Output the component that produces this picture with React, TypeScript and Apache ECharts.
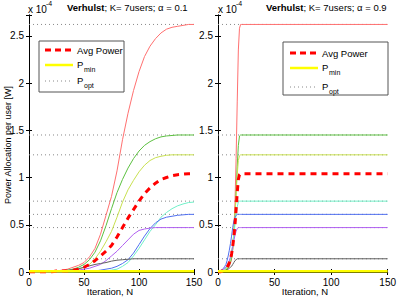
import React, { useEffect, useRef } from 'react';
import * as echarts from 'echarts';

const FONT = '"Liberation Sans", Arial, Helvetica, sans-serif';

// Left panel (alpha = 0.1): iterations sampled every 5
const ITER_L = [0, 5, 10, 15, 20, 25, 30, 35, 40, 45, 50, 55, 60, 65, 70, 75, 80, 85, 90, 95, 100, 105, 110, 115, 120, 125, 130, 135, 140, 145, 150];
const L_RED = [0, 0, 0, 0.01, 0.01, 0.01, 0.02, 0.03, 0.05, 0.07, 0.1, 0.16, 0.25, 0.4, 0.6, 0.8, 1.07, 1.4, 1.68, 1.92, 2.12, 2.28, 2.39, 2.47, 2.53, 2.57, 2.59, 2.6, 2.61, 2.62, 2.62];
const L_GREEN = [0, 0, 0, 0, 0.01, 0.01, 0.01, 0.02, 0.03, 0.05, 0.08, 0.13, 0.21, 0.33, 0.49, 0.67, 0.84, 0.98, 1.1, 1.2, 1.28, 1.34, 1.38, 1.41, 1.43, 1.44, 1.445, 1.45, 1.45, 1.45, 1.45];
const L_YG = [0, 0, 0, 0, 0, 0.01, 0.01, 0.01, 0.02, 0.03, 0.05, 0.08, 0.14, 0.22, 0.32, 0.43, 0.58, 0.74, 0.87, 0.97, 1.06, 1.13, 1.18, 1.21, 1.225, 1.235, 1.24, 1.24, 1.24, 1.24, 1.24];
const L_AVG = [0, 0, 0, 0, 0, 0.01, 0.01, 0.01, 0.02, 0.03, 0.05, 0.08, 0.12, 0.17, 0.22, 0.28, 0.37, 0.47, 0.57, 0.66, 0.75, 0.83, 0.89, 0.94, 0.98, 1.0, 1.02, 1.03, 1.035, 1.04, 1.04];
const L_CYAN = [0, 0, 0, 0, 0, 0, 0, 0, 0, 0, 0, 0.005, 0.005, 0.01, 0.01, 0.02, 0.03, 0.06, 0.1, 0.17, 0.25, 0.34, 0.43, 0.5, 0.58, 0.63, 0.67, 0.7, 0.72, 0.735, 0.74];
const L_BLUE = [0, 0, 0, 0, 0, 0, 0, 0, 0, 0.005, 0.005, 0.01, 0.01, 0.02, 0.03, 0.04, 0.06, 0.09, 0.13, 0.2, 0.29, 0.38, 0.46, 0.52, 0.56, 0.58, 0.59, 0.6, 0.605, 0.61, 0.61];
const L_PURPLE = [0, 0, 0, 0, 0, 0, 0, 0.01, 0.01, 0.02, 0.03, 0.04, 0.06, 0.08, 0.12, 0.17, 0.22, 0.28, 0.34, 0.4, 0.44, 0.455, 0.465, 0.47, 0.47, 0.47, 0.47, 0.47, 0.47, 0.47, 0.47];
const L_GRAY = [0, 0, 0, 0, 0.005, 0.01, 0.01, 0.015, 0.025, 0.035, 0.05, 0.065, 0.08, 0.09, 0.1, 0.115, 0.125, 0.13, 0.135, 0.14, 0.14, 0.14, 0.14, 0.14, 0.14, 0.14, 0.14, 0.14, 0.14, 0.14, 0.14];

// Right panel (alpha = 0.9)
const ITER_R = [0, 1, 2, 3, 4, 5, 6, 7, 8, 9, 10, 11, 12, 13, 14, 15, 16, 17, 18, 19, 20, 21, 22, 150];
const R_RED = [0, 0, 0, 0, 0, 0.01, 0.01, 0.02, 0.03, 0.04, 0.06, 0.09, 0.14, 0.24, 0.42, 0.72, 1.2, 1.8, 2.35, 2.58, 2.62, 2.62, 2.62, 2.62];
const R_GREEN = [0, 0, 0, 0, 0, 0.01, 0.01, 0.02, 0.03, 0.05, 0.07, 0.1, 0.15, 0.24, 0.38, 0.58, 0.85, 1.12, 1.34, 1.44, 1.45, 1.45, 1.45, 1.45];
const R_YG = [0, 0, 0, 0, 0.01, 0.01, 0.02, 0.03, 0.04, 0.06, 0.09, 0.13, 0.19, 0.28, 0.42, 0.6, 0.82, 1.03, 1.18, 1.23, 1.24, 1.24, 1.24, 1.24];
const R_CYAN = [0, 0, 0, 0.01, 0.01, 0.02, 0.03, 0.04, 0.06, 0.08, 0.11, 0.15, 0.21, 0.29, 0.39, 0.5, 0.61, 0.69, 0.74, 0.75, 0.75, 0.75, 0.75, 0.75];
const R_BLUE = [0, 0.01, 0.01, 0.02, 0.03, 0.04, 0.06, 0.08, 0.12, 0.17, 0.23, 0.3, 0.38, 0.47, 0.54, 0.58, 0.6, 0.61, 0.61, 0.61, 0.61, 0.61, 0.61, 0.61];
const R_PURPLE = [0, 0, 0.01, 0.01, 0.02, 0.03, 0.04, 0.05, 0.07, 0.09, 0.12, 0.16, 0.21, 0.27, 0.33, 0.39, 0.43, 0.46, 0.47, 0.47, 0.47, 0.47, 0.47, 0.47];
const R_GRAY = [0, 0, 0, 0, 0.01, 0.01, 0.01, 0.02, 0.02, 0.03, 0.04, 0.05, 0.06, 0.08, 0.1, 0.12, 0.13, 0.14, 0.14, 0.14, 0.14, 0.14, 0.14, 0.14];
const R_AVG = [0, 0, 0, 0.01, 0.01, 0.02, 0.03, 0.04, 0.05, 0.07, 0.1, 0.14, 0.19, 0.27, 0.37, 0.5, 0.66, 0.84, 0.98, 1.03, 1.04, 1.04, 1.04, 1.04];

const ITER_ENDS = [0, 150];
const PMIN = [0.008, 0.008];
const POPT = [2.62, 1.45, 1.24, 0.75, 0.61, 0.47, 0.14];

const X_TICKS = [0, 50, 100, 150];
const Y_TICKS = [0, 0.5, 1, 1.5, 2, 2.5];
const Y_MAX = 2.72;

const USER_COLORS = ['#ff7070', '#5cc040', '#c8e050', '#70f0c8', '#5070f0', '#b060f0', '#606060'];

export default function App() {
  const ref = useRef<HTMLDivElement>(null);
  useEffect(() => {
    const chart = echarts.init(ref.current!, null, { renderer: 'svg' });
    const grids = [
      { left: 29, right: 205, top: 15, bottom: 28 },
      { left: 218, right: 9, top: 15, bottom: 28 },
    ];
    const black = { color: '#000', width: 1 };
    const xAxes: any[] = [];
    const yAxes: any[] = [];
    [0, 1].forEach((g) => {
      xAxes.push({
        gridIndex: g, type: 'value', min: 0, max: 150, interval: 50, position: 'bottom',
        axisLine: { show: true, lineStyle: black },
        axisTick: { show: true, inside: true, length: 3, lineStyle: black },
        axisLabel: { color: '#000', fontSize: 10, fontFamily: FONT, margin: 5,
          formatter: (v: number) => (X_TICKS.includes(v) ? String(v) : '') },
        splitLine: { show: false },
      });
      yAxes.push({
        gridIndex: g, type: 'value', min: 0, max: Y_MAX, interval: 0.5, position: 'left',
        axisLine: { show: true, lineStyle: black },
        axisTick: { show: true, inside: true, length: 3, lineStyle: black },
        axisLabel: { color: '#000', fontSize: 10, fontFamily: FONT, margin: 5,
          formatter: (v: number) => (Y_TICKS.some((t) => Math.abs(t - v) < 1e-6) ? String(v) : '') },
        splitLine: { show: false },
      });
    });
    [0, 1].forEach((g) => {
      xAxes.push({
        gridIndex: g, type: 'value', min: 0, max: 150, interval: 50, position: 'top',
        axisLine: { show: true, lineStyle: black },
        axisTick: { show: true, inside: true, length: 3, lineStyle: black },
        axisLabel: { show: false }, splitLine: { show: false },
      });
      yAxes.push({
        gridIndex: g, type: 'value', min: 0, max: Y_MAX, interval: 0.5, position: 'right',
        axisLine: { show: true, lineStyle: black },
        axisTick: { show: true, inside: true, length: 3, lineStyle: black },
        axisLabel: { show: false }, splitLine: { show: false },
      });
    });

    const series: any[] = [];
    const line = (g: number, iters: number[], vals: number[], color: string, width: number, type: any, z: number) => {
      series.push({
        type: 'line', xAxisIndex: g, yAxisIndex: g, showSymbol: false, symbol: 'none',
        data: iters.map((t, i) => [t, vals[i]]),
        lineStyle: { color, width, type, cap: 'butt' }, z, silent: true,
      });
    };
    const users = [
      [L_RED, L_GREEN, L_YG, L_CYAN, L_BLUE, L_PURPLE, L_GRAY],
      [R_RED, R_GREEN, R_YG, R_CYAN, R_BLUE, R_PURPLE, R_GRAY],
    ];
    const iters = [ITER_L, ITER_R];
    const avgs = [L_AVG, R_AVG];
    [0, 1].forEach((g) => {
      POPT.forEach((p) => line(g, ITER_ENDS, [p, p], '#888', 1, [1, 3], 2));
      users[g].forEach((vals, k) => line(g, iters[g], vals, USER_COLORS[k], 1, 'solid', 3));
      line(g, iters[g], avgs[g], '#ff0000', 3, [6, 5], 4);
      line(g, ITER_ENDS, PMIN, '#ffff00', 2.5, 'solid', 5);
    });

    const txt = (x: number, y: number, text: string, size = 10, extra: any = {}) => ({
      type: 'text', x, y, silent: true,
      style: { text, fill: '#000', fontSize: size, fontFamily: FONT, align: 'left', verticalAlign: 'middle', ...extra },
    });
    const legend = (x0: number, y0: number, w: number, h: number, rows: number[], lx: number) => {
      const els: any[] = [];
      els.push({ type: 'rect', shape: { x: x0, y: y0, width: w, height: h }, style: { fill: '#fff', stroke: '#555', lineWidth: 1 }, z: 10 });
      els.push({ type: 'line', shape: { x1: lx, y1: rows[0], x2: lx + 28, y2: rows[0] }, style: { stroke: '#ff0000', lineWidth: 3, lineDash: [6, 4] }, z: 11 });
      els.push({ type: 'line', shape: { x1: lx, y1: rows[1], x2: lx + 28, y2: rows[1] }, style: { stroke: '#ffff00', lineWidth: 2.5 }, z: 11 });
      els.push({ type: 'line', shape: { x1: lx, y1: rows[2], x2: lx + 28, y2: rows[2] }, style: { stroke: '#888', lineWidth: 1, lineDash: [1, 3] }, z: 11 });
      const tx = lx + 32;
      els.push({ ...txt(tx, rows[0], 'Avg Power', 9.5), z: 11 });
      els.push({ ...txt(tx, rows[1] - 1, 'P', 9.5), z: 11 });
      els.push({ ...txt(tx + 7, rows[1] + 4, 'min', 7), z: 11 });
      els.push({ ...txt(tx, rows[2] - 1, 'P', 9.5), z: 11 });
      els.push({ ...txt(tx + 7, rows[2] + 4, 'opt', 7), z: 11 });
      return els;
    };

    const graphic: any[] = [
      { type: 'text', x: 67, y: 7, silent: true, style: { text: '{b|Verhulst}; K= 7users; α = 0.1', fill: '#000', fontSize: 9.5, fontFamily: FONT, align: 'left', verticalAlign: 'middle', rich: { b: { fontWeight: 'bold', fontSize: 9.5, fontFamily: FONT } } } },
      { type: 'text', x: 266, y: 7, silent: true, style: { text: '{b|Verhulst}; K= 7users; α = 0.9', fill: '#000', fontSize: 9.5, fontFamily: FONT, align: 'left', verticalAlign: 'middle', rich: { b: { fontWeight: 'bold', fontSize: 9.5, fontFamily: FONT } } } },
      txt(28, 9, 'x 10', 10),
      txt(46, 3, '-4', 7),
      txt(218, 9, 'x 10', 10),
      txt(236, 3, '-4', 7),
      { type: 'text', x: 8, y: 145, rotation: Math.PI / 2, silent: true, style: { text: 'Power Allocation per user [W]', fill: '#000', fontSize: 9, fontFamily: FONT, align: 'center', verticalAlign: 'middle' } },
      txt(110, 291, 'Iteration, N', 9.5, { align: 'center' }),
      txt(305, 291, 'Iteration, N', 9.5, { align: 'center' }),
      ...legend(39, 41, 85, 51, [50, 65, 81], 45),
      ...legend(283, 42, 105, 53, [53, 68, 87], 290),
    ];

    chart.setOption({
      animation: false,
      backgroundColor: '#fff',
      grid: grids.map((g) => ({ ...g, show: false, containLabel: false })),
      xAxis: xAxes,
      yAxis: yAxes,
      series,
      graphic,
    });
    return () => chart.dispose();
  }, []);
  return <div ref={ref} style={{ position: 'absolute', left: 0, top: 0, width: 399, height: 300 }} />;
}
